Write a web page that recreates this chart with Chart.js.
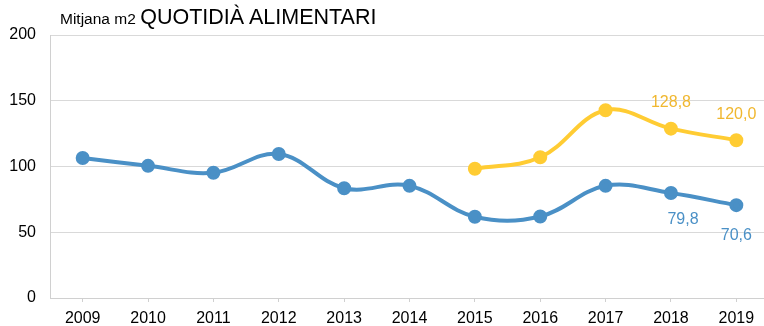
<!DOCTYPE html>
<html>
<head>
<meta charset="utf-8">
<script src="https://cdn.jsdelivr.net/npm/chart.js@4/dist/chart.umd.min.js"></script>
<style>
  html, body { margin: 0; padding: 0; background: #fff; overflow: hidden; }
  #wrap { position: relative; width: 778px; height: 326px; }
  #title { position: absolute; left: 60px; top: 5px; font-family: "Liberation Sans", Arial, sans-serif; color: #000; white-space: nowrap; }
  #title .sub { font-size: 15.5px; }
  #title .main { font-size: 21.5px; }
</style>
</head>
<body>
<div id="wrap">
  <canvas id="c" width="778" height="326"></canvas>
  <div id="title"><span class="sub">Mitjana m2</span> <span class="main">QUOTIDIÀ ALIMENTARI</span></div>
</div>
<script>
const years = ['2009','2010','2011','2012','2013','2014','2015','2016','2017','2018','2019'];
const seriesBlue = [106.5, 100.5, 95.3, 109.5, 83.5, 85.3, 61.8, 62.0, 85.3, 79.8, 70.6];
const seriesYellow = [null, null, null, null, null, null, 98.3, 107.0, 142.8, 128.8, 120.0];
const yTicks = [0, 50, 100, 150, 200];
// years whose value is written next to the point
const labelledYears = ['2018', '2019'];

const BLUE = '#4a90c6';
const YELLOW = '#ffcc33';
const FONT = '"Liberation Sans", Arial, sans-serif';

const valueLabels = {
  id: 'valueLabels',
  afterDatasetsDraw(chart) {
    const ctx = chart.ctx;
    ctx.save();
    ctx.font = '16px ' + FONT;
    ctx.textAlign = 'center';
    ctx.textBaseline = 'middle';
    chart.data.datasets.forEach((ds, di) => {
      const meta = chart.getDatasetMeta(di);
      labelledYears.forEach(y => {
        const i = years.indexOf(y);
        const v = ds.data[i];
        if (v == null) return;
        const pt = meta.data[i];
        const txt = v.toFixed(1).replace('.', ',');
        ctx.fillStyle = ds.labelColor;
        const dx = (ds.labelBelow && i === years.length - 2) ? 12 : 0;
        const dy = ds.labelBelow ? (i === years.length - 1 ? 30 : 27) : -26;
        ctx.fillText(txt, pt.x + dx, pt.y + dy);
      });
    });
    ctx.restore();
  }
};

new Chart(document.getElementById('c'), {
  type: 'line',
  data: {
    labels: years,
    datasets: [
      {
        data: seriesYellow,
        borderColor: YELLOW, backgroundColor: YELLOW,
        labelColor: '#f0b72f', labelBelow: false,
        borderWidth: 4, pointRadius: 5, pointHoverRadius: 5,
        tension: 0.38, spanGaps: false
      },
      {
        data: seriesBlue,
        borderColor: BLUE, backgroundColor: BLUE,
        labelColor: BLUE, labelBelow: true,
        borderWidth: 4, pointRadius: 5, pointHoverRadius: 5,
        tension: 0.38
      }
    ]
  },
  options: {
    responsive: false,
    animation: false,
    events: [],
    layout: { padding: { top: 35, right: 0, left: 0, bottom: 0 } },
    plugins: { legend: { display: false }, tooltip: { enabled: false } },
    scales: {
      x: {
        offset: true,
        grid: { display: true, drawOnChartArea: false, drawTicks: true, tickLength: 4, color: '#d0d0d0', offset: false },
        border: { display: true, color: '#d0d0d0' },
        ticks: { color: '#000', font: { family: FONT, size: 16 }, padding: 7, maxRotation: 0, autoSkip: false },
        afterFit(s) { s.height = 28; }
      },
      y: {
        min: 0, max: 200,
        afterBuildTicks(s) { s.ticks = yTicks.map(v => ({ value: v })); },
        grid: { color: '#d9d9d9', drawTicks: false },
        border: { display: true, color: '#d0d0d0' },
        ticks: { color: '#000', font: { family: FONT, size: 16 }, padding: 14 },
        afterFit(s) { s.width = 50; }
      }
    }
  },
  plugins: [valueLabels]
});
</script>
</body>
</html>
